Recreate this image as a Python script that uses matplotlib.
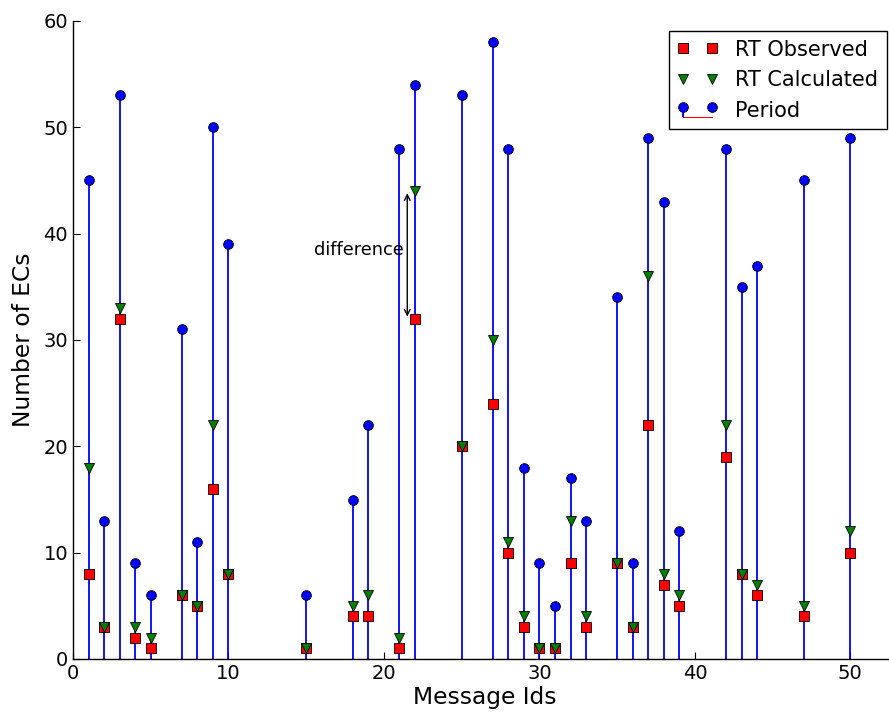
import matplotlib
matplotlib.use('Agg')
import matplotlib.pyplot as plt

# message ids and counts
msg_ids = [1, 2, 3, 4, 5, 7, 8, 9, 10, 15, 18, 19, 21, 22, 25, 27, 28, 29, 30,
           31, 32, 33, 35, 36, 37, 38, 39, 42, 43, 44, 47, 50]
period = [45, 13, 53, 9, 6, 31, 11, 50, 39, 6, 15, 22, 48, 54, 53, 58, 48, 18,
          9, 5, 17, 13, 34, 9, 49, 43, 12, 48, 35, 37, 45, 49]
rt_observed = [8, 3, 32, 2, 1, 6, 5, 16, 8, 1, 4, 4, 1, 32, 20, 24, 10, 3, 1,
               1, 9, 3, 9, 3, 22, 7, 5, 19, 8, 6, 4, 10]
rt_calculated = [18, 3, 33, 3, 2, 6, 5, 22, 8, 1, 5, 6, 2, 44, 20, 30, 11, 4, 1,
                 1, 13, 4, 9, 3, 36, 8, 6, 22, 8, 7, 5, 12]

fig = plt.figure(figsize=(8.89, 7.15), dpi=100)
# axes runs a little past the right edge of the figure, like the original crop
ax = fig.add_axes([73 / 889, 56 / 715, 824 / 889, 638 / 715])

ml, sl, bl = ax.stem(msg_ids, period, linefmt='b-', markerfmt='bo', basefmt='r-',
                     label='Period')
plt.setp(ml, markersize=7, markeredgecolor='k', markeredgewidth=0.6, zorder=3)
plt.setp(sl, linewidth=1.3)
plt.setp(bl, linewidth=0.8, zorder=1)

ax.plot(msg_ids, rt_observed, 's', color='red', markersize=7.5,
        markeredgecolor='k', markeredgewidth=0.6, label='RT Observed', zorder=4)
ax.plot(msg_ids, rt_calculated, 'v', color='green', markersize=7.5,
        markeredgecolor='k', markeredgewidth=0.6, label='RT Calculated', zorder=5)

# annotation between observed and calculated for message 22
ax.annotate('', xy=(21.5, 43.8), xytext=(21.5, 32.2),
            arrowprops=dict(arrowstyle='<->', color='k', lw=1.0,
                            shrinkA=0, shrinkB=0))
ax.text(15.5, 38.5, 'difference', fontsize=12.8, va='center', ha='left')

ax.set_xlim(0, 53)
ax.set_ylim(0, 60)
ax.set_xticks([0, 10, 20, 30, 40, 50])
ax.set_yticks([0, 10, 20, 30, 40, 50, 60])
ax.spines['top'].set_visible(False)
ax.spines['right'].set_visible(False)
ax.spines['left'].set_linewidth(1.0)
ax.spines['bottom'].set_linewidth(1.0)
ax.tick_params(direction='in', length=5, labelsize=14, top=False, right=False)
ax.set_xlabel('Message Ids', fontsize=16.8, labelpad=2)
ax.set_ylabel('Number of ECs', fontsize=16.8, labelpad=6)

handles, labels = ax.get_legend_handles_labels()
order = [labels.index('RT Observed'), labels.index('RT Calculated'), labels.index('Period')]
leg = ax.legend([handles[i] for i in order], [labels[i] for i in order],
                loc='upper right', numpoints=2, fontsize=15, fancybox=False,
                edgecolor='k', framealpha=1, borderaxespad=0.5,
                handletextpad=0.8, labelspacing=0.5)
leg.get_frame().set_linewidth(1.0)

fig.savefig('out.png', dpi=100)
